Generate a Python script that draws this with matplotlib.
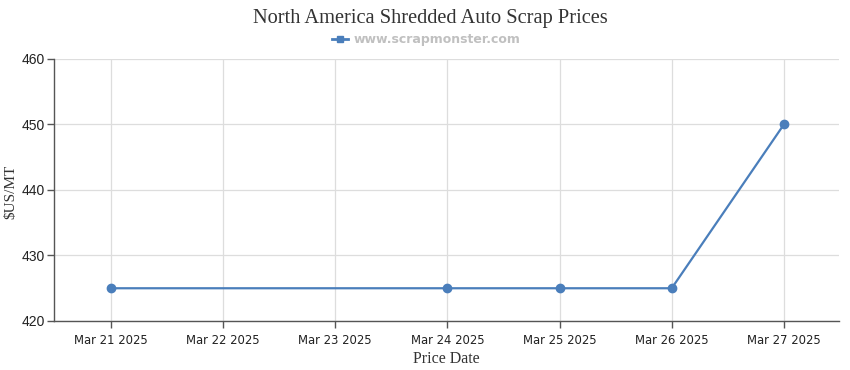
import matplotlib
matplotlib.use("Agg")
import matplotlib.pyplot as plt
from matplotlib.lines import Line2D
import datetime as dt

tick_dates = ["2025-03-21", "2025-03-22", "2025-03-23", "2025-03-24",
              "2025-03-25", "2025-03-26", "2025-03-27"]
tick_labels = ["Mar 21 2025", "Mar 22 2025", "Mar 23 2025", "Mar 24 2025",
               "Mar 25 2025", "Mar 26 2025", "Mar 27 2025"]
point_dates = ["2025-03-21", "2025-03-24", "2025-03-25", "2025-03-26", "2025-03-27"]
prices = [425, 425, 425, 425, 450]
y_ticks = [420, 430, 440, 450, 460]

color = "#4a7ebb"
td = [dt.datetime.fromisoformat(d) for d in tick_dates]
pd_ = [dt.datetime.fromisoformat(d) for d in point_dates]

fig = plt.figure(figsize=(8.5, 3.7), dpi=100)
ax = fig.add_axes([54/850, 1-321/370, (839-54)/850, (321-59)/370])

ax.plot(pd_, prices, color=color, lw=1.6, marker="o", ms=6, zorder=3)

ax.set_xlim(td[0] - dt.timedelta(hours=12.2), td[-1] + dt.timedelta(hours=11.8))
ax.set_ylim(420, 460)
ax.set_xticks(td)
ax.set_xticklabels(tick_labels, family="DejaVu Sans", fontsize=8.4)
ax.set_yticks(y_ticks)
ax.set_yticklabels([str(v) for v in y_ticks], family="Liberation Sans", fontsize=10)

ax.grid(True, color="#dddddd", lw=0.9)
ax.set_axisbelow(True)
for s in ["top", "right"]:
    ax.spines[s].set_visible(False)
for s in ["left", "bottom"]:
    ax.spines[s].set_color("#555555")
    ax.spines[s].set_linewidth(1.0)
ax.tick_params(axis="both", colors="#555555", length=5, width=1, labelcolor="#222222")
ax.tick_params(axis="x", pad=4)
ax.tick_params(axis="y", pad=1.5)

fig.text(11/850, 1-192/370, "$US/MT", rotation=90, ha="center", va="center",
         family="Liberation Serif", fontsize=11, color="#333333")
ax.set_xlabel("Price Date", family="Liberation Serif", fontsize=11.5, color="#333333", labelpad=3)

fig.text(430/850, 1-18/370, "North America Shredded Auto Scrap Prices", ha="center", va="center",
         family="Liberation Serif", fontsize=14.7, color="#333333")

h = Line2D([], [], color=color, lw=2, marker="s", ms=5)
fig.legend([h], ["www.scrapmonster.com"], loc="center", bbox_to_anchor=(426/850, 1-40/370),
           frameon=False, handlelength=1.3, handletextpad=0.4,
           prop={"weight": "bold", "size": 9}, labelcolor="#c0c0c0")

fig.savefig("out.png", dpi=100)
